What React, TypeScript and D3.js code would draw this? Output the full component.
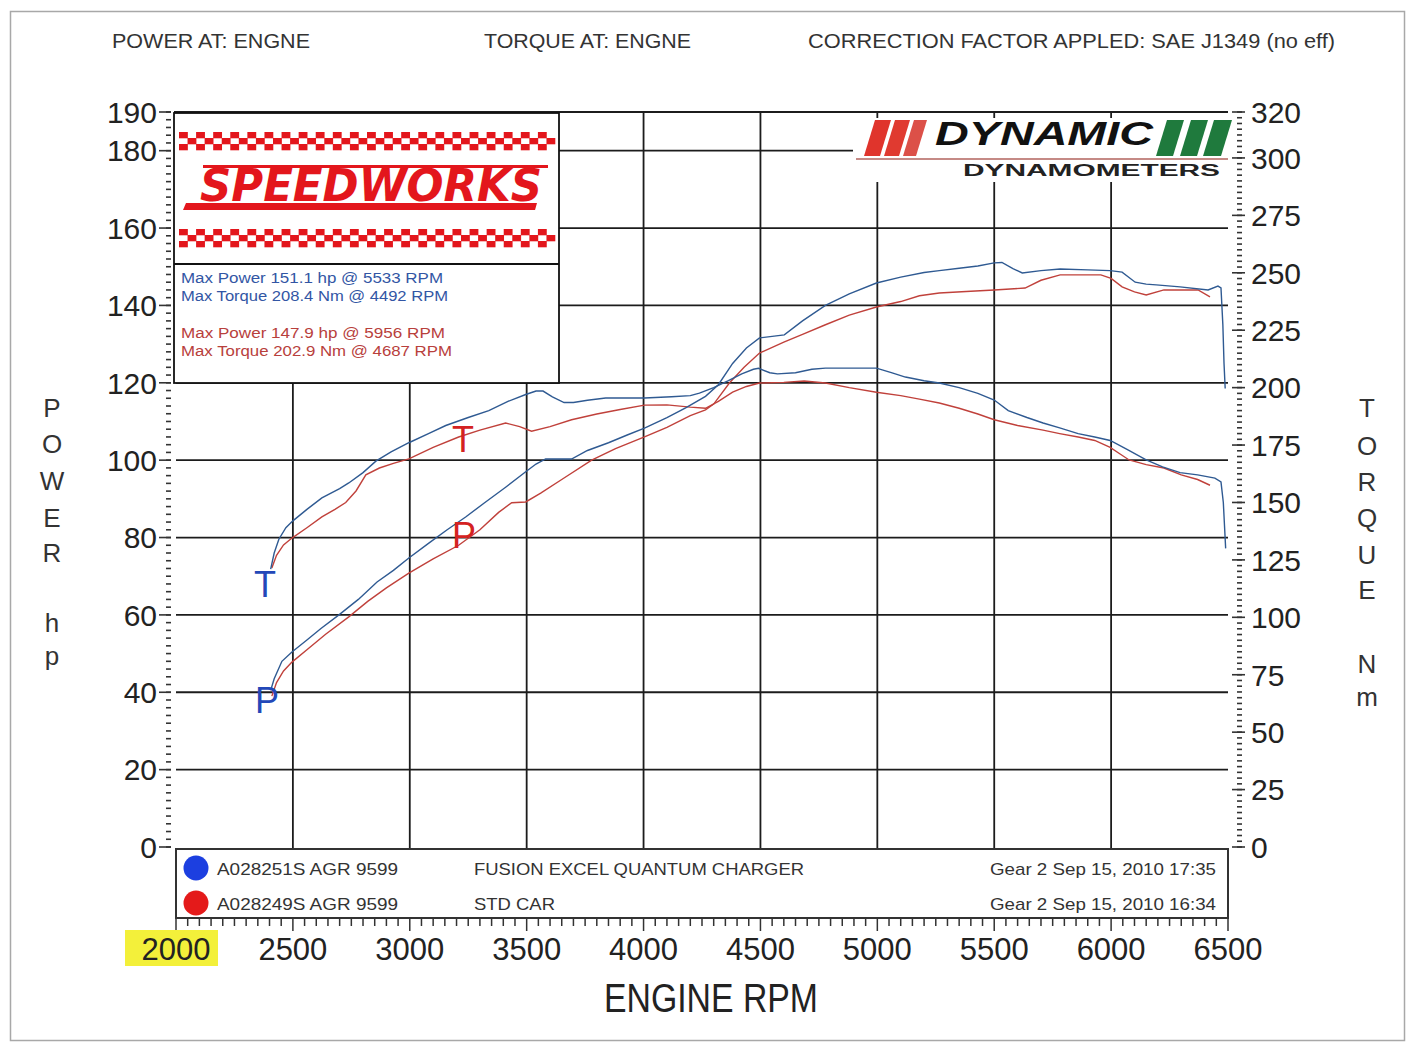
import React from "react";
import * as d3 from "d3";

// ---------- DATA ----------
const rpmTicks = [2000, 2500, 3000, 3500, 4000, 4500, 5000, 5500, 6000, 6500];
const hpTicks = [0, 20, 40, 60, 80, 100, 120, 140, 160, 180, 190];
const nmTicks = [0, 25, 50, 75, 100, 125, 150, 175, 200, 225, 250, 275, 300, 320];

// Blue run: A028251S (Fusion Excel Quantum Charger)
const bluePower: [number, number][] = [
  [2405, 40.5], [2420, 43.5], [2453, 48], [2496, 50.4], [2560, 53.5], [2620, 56.5], [2697, 60],
  [2780, 64], [2860, 68.5], [2930, 71.5], [2996, 74.7], [3080, 78.5], [3160, 82], [3239, 85.3],
  [3320, 89], [3410, 93], [3496, 97], [3540, 99], [3581, 100.3], [3692, 100.3], [3760, 102.5],
  [3850, 104.5], [3930, 106.5], [4004, 108.3], [4100, 111], [4180, 113.5], [4265, 116.5],
  [4320, 119.5], [4381, 125], [4440, 129], [4496, 131.6], [4550, 132], [4602, 132.4], [4680, 136],
  [4778, 140], [4880, 143], [4996, 145.8], [5100, 147.3], [5200, 148.5], [5265, 149], [5350, 149.6],
  [5430, 150.2], [5500, 151], [5533, 151.1], [5580, 149.5], [5620, 148.4], [5700, 149], [5782, 149.4],
  [5900, 149.2], [5996, 149], [6047, 148.6], [6103, 146], [6150, 145.5], [6193, 145.3], [6295, 144.8],
  [6415, 144], [6457, 145], [6470, 144.5], [6478, 135], [6483, 125], [6488, 118.5],
];
const blueTorque: [number, number][] = [
  [2405, 121], [2420, 128], [2440, 134], [2470, 139], [2500, 142], [2560, 147], [2624, 152],
  [2700, 156], [2739, 158.5], [2800, 163], [2855, 168], [2920, 172], [2996, 176], [3080, 180],
  [3154, 183.5], [3250, 187], [3338, 190], [3420, 194], [3496, 197], [3540, 198.5], [3570, 198.5],
  [3610, 196], [3660, 193.5], [3700, 193.5], [3760, 194.5], [3838, 195.5], [3920, 195.5],
  [4004, 195.5], [4120, 196], [4200, 196.5], [4239, 197.6], [4300, 200], [4363, 203], [4420, 206],
  [4470, 208], [4492, 208.4], [4540, 206.5], [4573, 206], [4650, 206.5], [4720, 208], [4778, 208.5],
  [4900, 208.5], [4996, 208.5], [5060, 206.5], [5120, 204.6], [5200, 203], [5265, 202], [5350, 200],
  [5430, 197.5], [5500, 194.6], [5560, 190], [5640, 187], [5709, 184.6], [5780, 182.5], [5859, 180],
  [5930, 178.5], [5996, 177], [6070, 173], [6150, 168.5], [6220, 165.5], [6295, 163], [6370, 162],
  [6444, 160.6], [6470, 159], [6480, 150], [6485, 140], [6490, 130],
];

// Red run: A028249S (STD CAR)
const redPower: [number, number][] = [
  [2410, 39], [2430, 42.5], [2460, 45.5], [2496, 47.8], [2560, 51], [2640, 55], [2739, 59.5],
  [2820, 63.5], [2900, 67], [2996, 70.8], [3100, 74.5], [3209, 78], [3300, 82], [3380, 86.5],
  [3436, 89], [3496, 89.2], [3560, 91.5], [3650, 95], [3778, 100], [3880, 103], [4004, 106],
  [4100, 108.5], [4200, 111.5], [4265, 113], [4300, 114.5], [4368, 120], [4430, 124], [4496, 127.7],
  [4600, 130.5], [4680, 132.5], [4778, 135], [4880, 137.5], [4996, 139.6], [5100, 141], [5180, 142.5],
  [5265, 143.2], [5380, 143.6], [5500, 144], [5632, 144.5], [5700, 146.5], [5782, 147.9], [5870, 147.9],
  [5956, 147.9], [6000, 147], [6047, 144.8], [6100, 143.5], [6150, 142.7], [6226, 144], [6300, 144],
  [6372, 144], [6423, 142.2],
];
const redTorque: [number, number][] = [
  [2410, 121.5], [2430, 127], [2460, 131.5], [2496, 134.5], [2560, 139], [2624, 143.7], [2680, 147],
  [2726, 150], [2770, 155], [2812, 162], [2870, 165], [2930, 167], [2996, 169], [3100, 174],
  [3209, 178.5], [3300, 181.5], [3410, 184.6], [3470, 183], [3521, 181], [3600, 183], [3692, 186],
  [3800, 188.5], [3900, 190.5], [4004, 192.4], [4100, 192.5], [4200, 191.5], [4265, 191], [4320, 194],
  [4381, 198], [4440, 200.5], [4496, 202], [4600, 202.3], [4687, 202.9], [4778, 202], [4880, 200],
  [4996, 198], [5100, 196.5], [5180, 195], [5265, 193.3], [5350, 191], [5430, 188.5], [5500, 186],
  [5600, 183.5], [5709, 181.5], [5780, 180], [5859, 178.5], [5930, 177], [5996, 174], [6040, 171],
  [6077, 168.5], [6150, 166.5], [6226, 165], [6300, 162], [6370, 160], [6423, 157.5],
];

const headerTexts = ["POWER AT: ENGNE", "TORQUE AT: ENGNE", "CORRECTION FACTOR APPLED: SAE J1349 (no eff)"];
const maxLines = [
  "Max Power 151.1 hp @ 5533 RPM",
  "Max Torque 208.4 Nm @ 4492 RPM",
  "Max Power 147.9 hp @ 5956 RPM",
  "Max Torque 202.9 Nm @ 4687 RPM",
];
const legendIds = ["A028251S AGR 9599", "A028249S AGR 9599"];
const legendNames = ["FUSION EXCEL QUANTUM CHARGER", "STD CAR"];
const legendDates = ["Gear 2 Sep 15, 2010 17:35", "Gear 2 Sep 15, 2010 16:34"];
const leftTitle = ["P", "O", "W", "E", "R", "h", "p"];
const rightTitle = ["T", "O", "R", "Q", "U", "E", "N", "m"];

// ---------- STYLE ----------
const BLUE = "#2f5a92";
const RED = "#c0413b";
const LBLUE = "#2348b8";
const LRED = "#d42222";
const GRID = "#1c1c1c";
const FONT = "'Liberation Sans', Arial, sans-serif";
const NARROW = "'Liberation Sans Narrow', 'Liberation Sans', Arial, sans-serif";

export default function App() {
  const L = 176, R = 1228, T = 112, B = 847;
  const x = d3.scaleLinear().domain([2000, 6500]).range([L, R]);
  const yHp = d3.scaleLinear().domain([0, 190]).range([B, T]);
  const yNm = d3.scaleLinear().domain([0, 320]).range([B, T]);

  const lineHp = d3.line<[number, number]>().x((d) => x(d[0])).y((d) => yHp(d[1]));
  const lineNm = d3.line<[number, number]>().x((d) => x(d[0])).y((d) => yNm(d[1]));

  const hpMinor = d3.range(0, 191, 2);
  const nmMinor = d3.range(0, 320.1, 2.5);
  const rpmMinor = d3.range(2000, 6501, 50);

  // checker strips
  const checker = (y0: number) => {
    const cells: JSX.Element[] = [];
    const cols = 44, cw = (555 - 179) / cols, ch = 6;
    for (let r = 0; r < 3; r++)
      for (let c = 0; c < cols; c++)
        if ((r + c) % 2 === 0)
          cells.push(<rect key={`${y0}-${r}-${c}`} x={179 + c * cw} y={y0 + r * ch} width={cw + 0.3} height={ch + 0.3} fill="#e3161c" />);
    return cells;
  };

  const stripe = (bx: number, w: number, color: string, key: string) => (
    <polygon key={key} points={`${bx},156 ${bx + w},156 ${bx + w + 11},120 ${bx + 11},120`} fill={color} />
  );

  const headerPos = [
    { x: 112, w: 198 },
    { x: 484, w: 207 },
    { x: 808, w: 527 },
  ];
  const maxPos = [
    { y: 283, w: 262, c: "#3256a4" },
    { y: 301, w: 267, c: "#3256a4" },
    { y: 338, w: 264, c: "#b8403c" },
    { y: 356, w: 271, c: "#b8403c" },
  ];
  const leftTitleY = [417, 453, 490, 527, 562, 632, 665];
  const rightTitleY = [417, 455, 491, 527, 564, 599, 673, 706];

  return (
    <div style={{ position: "absolute", left: 0, top: 0 }}>
      <svg width={1409} height={1042} style={{ display: "block", background: "#fff" }}>
        <rect x={0} y={0} width={1409} height={1042} fill="#fff" />
        <rect x={10.5} y={11.5} width={1394} height={1029} fill="none" stroke="#a8a8a8" strokeWidth={1.5} />

        {/* header */}
        {headerTexts.map((t, i) => (
          <text key={t} x={headerPos[i].x} y={48} fontFamily={NARROW} fontSize={21} fill="#333"
            textLength={headerPos[i].w} lengthAdjust="spacingAndGlyphs">{t}</text>
        ))}

        {/* grid */}
        {rpmTicks.slice(1, -1).map((r) => (
          <line key={"vg" + r} x1={x(r)} x2={x(r)} y1={T} y2={B + 1} stroke={GRID} strokeWidth={1.8} />
        ))}
        {hpTicks.slice(1).map((h) => (
          <line key={"hg" + h} x1={L} x2={R} y1={yHp(h)} y2={yHp(h)} stroke={GRID} strokeWidth={1.8} />
        ))}

        {/* left axis ticks */}
        {hpMinor.map((h) => (
          <line key={"lt" + h} x1={166} x2={171} y1={yHp(h)} y2={yHp(h)} stroke="#333" strokeWidth={1.6} />
        ))}
        {hpTicks.map((h) => (
          <line key={"lT" + h} x1={159} x2={171} y1={yHp(h)} y2={yHp(h)} stroke="#333" strokeWidth={1.6} />
        ))}
        {hpTicks.map((h) => (
          <text key={"ll" + h} x={157} y={yHp(h)} dy="0.36em" textAnchor="end" fontFamily={FONT} fontSize={30} fill="#222">{h}</text>
        ))}

        {/* right axis ticks */}
        {nmMinor.map((n) => (
          <line key={"rt" + n} x1={1237} x2={1242} y1={yNm(n)} y2={yNm(n)} stroke="#333" strokeWidth={1.6} />
        ))}
        {nmTicks.map((n) => (
          <line key={"rT" + n} x1={1232} x2={1245} y1={yNm(n)} y2={yNm(n)} stroke="#333" strokeWidth={1.6} />
        ))}
        {nmTicks.map((n) => (
          <text key={"rl" + n} x={1251} y={yNm(n)} dy="0.36em" textAnchor="start" fontFamily={FONT} fontSize={30} fill="#222">{n}</text>
        ))}

        {/* axis titles */}
        {leftTitle.map((c, i) => (
          <text key={"lt" + i} x={52} y={leftTitleY[i]} textAnchor="middle" fontFamily={FONT} fontSize={26} fill="#333">{c}</text>
        ))}
        {rightTitle.map((c, i) => (
          <text key={"rtt" + i} x={1367} y={rightTitleY[i]} textAnchor="middle" fontFamily={FONT} fontSize={26} fill="#333">{c}</text>
        ))}

        {/* curves */}
        <path d={lineNm(redTorque) || ""} fill="none" stroke={RED} strokeWidth={1.4} />
        <path d={lineHp(redPower) || ""} fill="none" stroke={RED} strokeWidth={1.4} />
        <path d={lineNm(blueTorque) || ""} fill="none" stroke={BLUE} strokeWidth={1.4} />
        <path d={lineHp(bluePower) || ""} fill="none" stroke={BLUE} strokeWidth={1.4} />

        {/* curve letters */}
        <text x={265} y={597} textAnchor="middle" fontFamily={FONT} fontSize={36} fill={LBLUE}>T</text>
        <text x={267} y={713} textAnchor="middle" fontFamily={FONT} fontSize={36} fill={LBLUE}>P</text>
        <text x={463} y={452} textAnchor="middle" fontFamily={FONT} fontSize={36} fill={LRED}>T</text>
        <text x={464} y={548} textAnchor="middle" fontFamily={FONT} fontSize={36} fill={LRED}>P</text>

        {/* top border */}
        <line x1={L - 2} x2={R} y1={T} y2={T} stroke={GRID} strokeWidth={1.8} />

        {/* Speedworks box */}
        <rect x={174} y={113} width={385} height={270} fill="#fff" stroke="#111" strokeWidth={1.8} />
        <line x1={174} x2={559} y1={264} y2={264} stroke="#111" strokeWidth={1.8} />
        {checker(132)}
        {checker(229)}
        <rect x={203} y={165} width={345} height={3} fill="#e3161c" />
        <text x={200} y={201} fontFamily="'DejaVu Sans', sans-serif" fontWeight="bold" fontStyle="italic" fontSize={44}
          fill="#e3161c" textLength={342} lengthAdjust="spacingAndGlyphs">SPEEDWORKS</text>
        <polygon points="186,203 537,203 535,210 183,210" fill="#e3161c" />
        {maxLines.map((t, i) => (
          <text key={t} x={181} y={maxPos[i].y} fontFamily={FONT} fontSize={14} fill={maxPos[i].c}
            textLength={maxPos[i].w} lengthAdjust="spacingAndGlyphs">{t}</text>
        ))}

        {/* Dynamic logo */}
        <rect x={853} y={118} width={376} height={64} fill="#fff" />
        {stripe(864, 16, "#e0342c", "s1")}
        {stripe(884, 15, "#e03a30", "s2")}
        {stripe(903, 13, "#dc5048", "s3")}
        <text x={935} y={145} fontFamily={FONT} fontWeight="bold" fontStyle="italic" fontSize={34} fill="#111"
          textLength={218} lengthAdjust="spacingAndGlyphs">DYNAMIC</text>
        {stripe(1156, 17, "#1f7a3d", "g1")}
        {stripe(1180, 17, "#1f7a3d", "g2")}
        {stripe(1203, 18, "#1f7a3d", "g3")}
        <line x1={856} x2={1228} y1={159} y2={159} stroke="#c58a86" strokeWidth={2} />
        <text x={963} y={176} fontFamily={FONT} fontWeight="bold" fontSize={16} fill="#222"
          textLength={257} lengthAdjust="spacingAndGlyphs">DYNAMOMETERS</text>

        {/* legend box */}
        <rect x={176} y={849} width={1052} height={69} fill="#fff" stroke="#333" strokeWidth={2} />
        {[0, 1].map((i) => {
          const cy = i === 0 ? 868 : 903;
          return (
            <g key={"lg" + i}>
              <circle cx={196} cy={cy} r={12.5} fill={i === 0 ? "#1c3fe0" : "#e41a1a"} />
              <text x={217} y={cy + 7} fontFamily={FONT} fontSize={17} fill="#333"
                textLength={181} lengthAdjust="spacingAndGlyphs">{legendIds[i]}</text>
              <text x={474} y={cy + 7} fontFamily={FONT} fontSize={17} fill="#333"
                textLength={i === 0 ? 330 : 81} lengthAdjust="spacingAndGlyphs">{legendNames[i]}</text>
              <text x={990} y={cy + 7} fontFamily={FONT} fontSize={17} fill="#333"
                textLength={226} lengthAdjust="spacingAndGlyphs">{legendDates[i]}</text>
            </g>
          );
        })}

        {/* x axis ticks */}
        {rpmMinor.map((r) => (
          <line key={"xt" + r} x1={x(r)} x2={x(r)} y1={919} y2={r % 500 === 0 ? 931 : 926} stroke="#333" strokeWidth={1.5} />
        ))}
        <rect x={125} y={930} width={93} height={36} fill="#f3f03a" />
        {rpmTicks.map((r) => (
          <text key={"xl" + r} x={x(r)} y={960} textAnchor="middle" fontFamily={FONT} fontSize={31} fill="#222">{r}</text>
        ))}
        <text x={711} y={1012} textAnchor="middle" fontFamily={FONT} fontSize={40} fill="#222"
          textLength={214} lengthAdjust="spacingAndGlyphs">ENGINE RPM</text>
      </svg>
    </div>
  );
}
